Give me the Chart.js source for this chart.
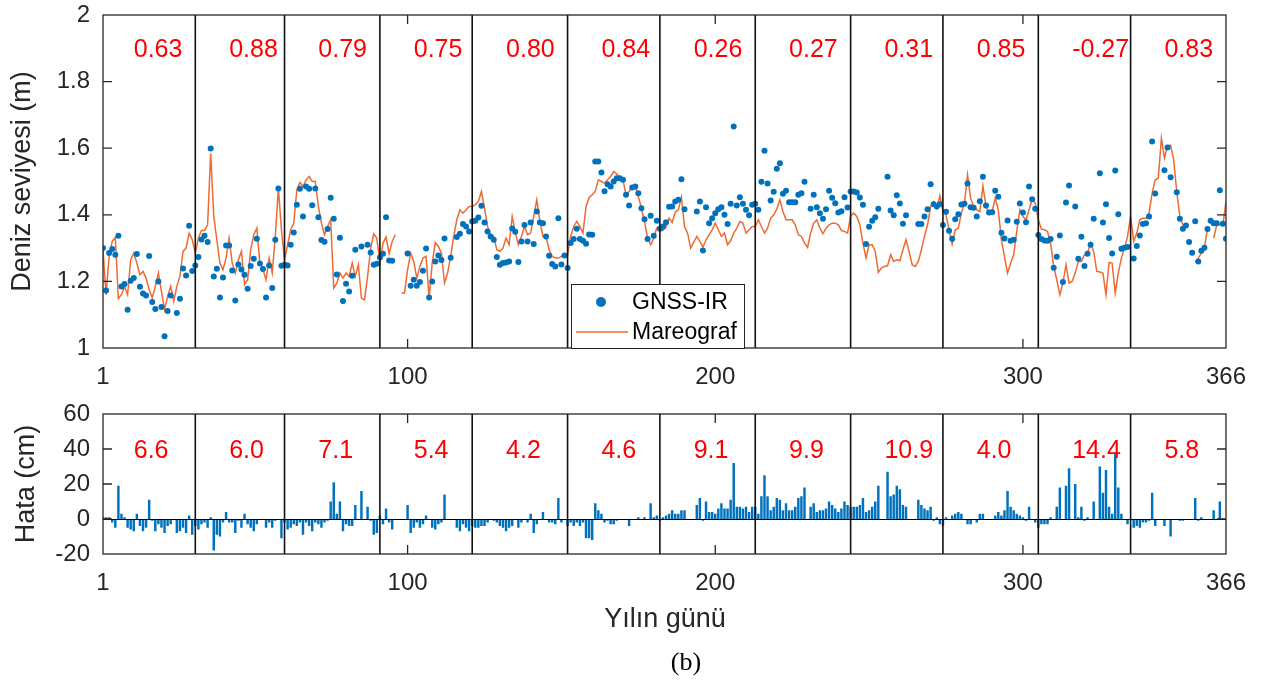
<!DOCTYPE html>
<html><head><meta charset="utf-8">
<script src="https://cdn.jsdelivr.net/npm/chart.js@4"></script>
<style>
html,body{margin:0;padding:0;background:#fff;}
#wrap{position:relative;width:1261px;height:682px;background:#fff;}
canvas{position:absolute;left:0;top:0;}
</style></head><body>
<div id="wrap"><canvas id="c1" width="1261" height="682"></canvas><canvas id="c2" width="1261" height="682"></canvas></div>
<script>
// ---------- DATA ----------
const xTicks = [1, 100, 200, 300, 366];
const xTickLabels = ['1', '100', '200', '300', '366'];
const yTicksTop = [1, 1.2, 1.4, 1.6, 1.8, 2];
const yTickLabelsTop = ['1', '1.2', '1.4', '1.6', '1.8', '2'];
const yTicksBottom = [-20, 0, 20, 40, 60];
const yTickLabelsBottom = ['-20', '0', '20', '40', '60'];
const monthStarts = [1, 32, 61, 92, 122, 153, 183, 214, 245, 275, 306, 336];
const monthLines = [31, 60, 91, 121, 152, 182, 213, 244, 274, 305, 335];
const corrLabels = ['0.63','0.88','0.79','0.75','0.80','0.84','0.26','0.27','0.31','0.85','-0.27','0.83'];
const rmsLabels = ['6.6','6.0','7.1','5.4','4.2','4.6','9.1','9.9','10.9','4.0','14.4','5.8'];

// GNSS-IR daily sea level (m), day 1..366
const gnss = [
1.300,1.173,1.285,1.297,1.280,1.337,1.185,1.192,1.115,1.202,1.210,1.282,1.184,1.164,1.158,1.276,1.138,1.117,1.200,1.123,1.035,1.111,1.158,null,1.105,1.148,1.239,1.218,1.367,1.231,1.248,
1.273,1.326,1.337,1.318,1.599,1.215,1.238,1.152,1.212,1.308,1.308,1.233,1.143,1.251,1.236,1.220,1.178,1.246,1.268,1.328,1.254,1.237,1.152,1.248,1.180,1.325,1.479,1.247,1.250,
1.248,1.310,1.347,1.430,1.478,1.395,1.485,1.478,1.429,1.479,1.393,1.324,1.319,1.357,1.451,1.388,1.221,1.331,1.141,1.193,1.170,1.217,1.295,null,1.305,null,1.310,1.287,1.250,1.253,1.272,
1.283,1.393,1.263,1.262,null,null,null,null,1.284,1.187,1.205,1.187,1.198,1.232,1.299,1.152,1.200,1.260,1.278,1.264,1.329,null,1.271,null,1.333,1.343,1.372,1.365,1.350,1.380,
1.382,1.392,1.427,1.377,1.350,1.335,1.325,1.273,1.250,1.255,1.257,1.260,1.359,1.349,1.258,1.320,1.369,1.320,1.377,1.312,1.410,1.377,1.375,1.335,1.277,1.252,1.245,1.390,1.251,1.278,1.240,
1.315,1.327,1.358,1.327,1.322,1.313,1.341,1.340,1.560,1.560,1.527,1.471,1.492,1.485,1.500,1.510,1.510,1.505,1.460,1.428,1.482,1.485,1.465,1.420,1.387,1.327,1.397,1.337,1.382,1.358,
1.365,1.378,1.424,1.425,1.440,1.445,1.507,1.417,null,null,null,1.410,1.440,1.293,1.423,1.375,1.390,1.405,1.417,1.423,1.400,1.372,1.433,1.665,1.428,1.453,1.433,1.415,1.399,1.430,1.433,
1.415,1.499,1.592,1.494,1.443,1.469,1.538,1.555,1.463,1.472,1.438,1.438,1.438,1.460,1.465,1.499,null,1.418,1.460,1.423,1.405,1.388,1.417,1.472,1.451,1.435,1.407,1.411,1.453,1.422,1.470,
1.470,1.467,1.452,1.430,1.312,1.364,1.382,1.393,1.418,null,null,1.514,1.413,1.399,1.459,1.434,1.373,1.399,null,null,null,1.372,1.372,1.395,1.417,1.492,1.432,1.425,1.432,1.369,
1.409,1.352,1.328,1.387,1.402,1.431,1.433,1.494,1.423,1.421,1.395,1.441,1.514,1.428,1.407,1.408,1.472,1.454,1.346,1.329,1.383,1.322,1.325,1.379,1.434,1.407,1.378,1.485,1.447,1.418,1.339,
1.327,1.323,1.322,1.327,1.241,1.274,1.338,1.198,1.437,1.488,null,1.425,1.268,1.334,1.246,1.283,1.310,1.388,null,1.525,1.377,1.432,1.330,1.284,1.533,1.402,1.298,1.301,1.303,null,
1.269,1.306,1.338,1.372,1.375,1.395,1.620,1.464,null,null,1.534,1.602,1.513,null,1.468,1.388,1.358,1.368,1.318,1.286,1.381,1.260,1.292,1.301,1.357,1.382,1.375,1.375,1.474,1.373,1.328
];

// Tide gauge (Mareograf) daily sea level (m), day 1..366
const tide = [
1.295,1.160,1.275,1.320,1.332,1.148,1.160,1.185,1.160,1.265,1.285,1.255,1.220,1.230,1.210,1.175,1.150,1.185,1.225,1.170,1.115,1.155,1.185,1.140,1.185,1.215,1.290,1.300,1.345,1.325,1.285,
1.330,1.353,1.353,1.370,1.585,1.395,1.325,1.255,1.235,1.270,1.330,1.255,1.225,1.265,1.290,1.190,1.205,1.295,1.340,1.360,1.255,1.235,1.205,1.270,1.225,1.335,1.480,1.355,1.265,
1.310,1.355,1.375,1.475,1.497,1.485,1.505,1.515,1.500,1.500,1.425,1.375,1.340,1.365,1.385,1.180,1.195,1.225,1.210,1.225,1.215,1.255,1.215,1.250,1.150,1.145,1.215,1.300,1.343,1.330,1.255,
1.315,1.333,1.283,1.320,1.340,null,1.165,1.165,1.235,1.285,1.260,1.210,1.245,1.270,1.275,1.150,1.255,1.317,1.305,1.285,1.195,1.225,1.275,1.337,1.385,1.415,1.405,1.415,1.425,1.425,
1.430,1.440,1.470,1.420,1.365,1.337,1.335,1.295,1.290,1.300,1.330,1.310,1.395,1.347,1.310,1.335,1.365,1.340,1.345,1.395,1.445,1.380,1.335,1.335,1.295,1.275,1.270,1.270,1.275,1.278,1.280,
1.335,1.365,1.380,1.365,1.345,1.425,1.452,1.460,1.470,1.505,1.500,1.495,1.505,1.515,1.530,1.523,1.510,1.505,1.460,1.470,1.483,1.487,1.455,1.420,1.380,1.330,1.310,1.330,1.360,1.365,
1.353,1.363,1.390,1.377,1.408,1.415,1.453,1.365,1.345,1.300,1.318,1.335,1.320,1.303,1.325,1.340,1.355,1.375,1.355,1.335,1.345,1.310,1.322,1.345,1.360,1.380,1.375,1.345,1.355,1.365,1.365,
1.385,1.365,1.345,1.360,1.390,1.400,1.417,1.445,1.410,1.385,1.385,1.385,1.370,1.340,1.335,1.315,1.302,1.345,1.375,1.385,1.360,1.343,1.360,1.370,1.375,1.375,1.370,1.353,1.350,1.345,1.397,
1.405,1.395,1.370,1.315,1.270,1.310,1.310,1.290,1.227,1.240,1.245,1.247,1.280,1.260,1.265,1.262,1.295,1.325,1.290,1.250,1.245,1.260,1.295,1.335,1.370,1.425,1.440,1.420,1.457,1.410,
1.400,1.355,1.312,1.355,1.360,1.405,1.435,1.520,1.450,1.425,1.415,1.410,1.487,1.425,1.407,1.410,1.450,1.415,1.325,1.275,1.225,1.255,1.280,1.350,1.415,1.395,1.385,1.415,1.445,1.435,1.385,
1.357,1.355,1.350,1.315,1.245,1.205,1.160,1.195,1.250,1.195,1.200,1.225,1.260,1.260,1.280,1.285,1.315,1.290,1.230,1.228,1.225,1.160,1.257,1.255,1.165,1.225,1.270,1.300,1.335,1.395,
1.320,1.345,1.385,1.390,1.390,1.405,1.465,1.505,1.510,1.630,1.570,1.607,1.609,1.565,1.470,1.395,1.370,1.370,null,null,1.258,1.270,1.285,1.300,1.360,null,1.330,1.370,1.370,1.370,1.440
];

// Error (cm), day 1..366
const errorCm = [
1,1,1,-2,-5,19,3,1,-5,-6,-7,3,-4,-7,-5,11,-1,-7,-3,-5,-8,-4,-3,null,-8,-7,-5,-8,2,-9,-4,
-6,-3,-2,-5,1,-18,-9,-10,-2,4,-2,-2,-8,-1,-5,3,-3,-5,-7,-3,0,0,-5,-2,-5,-1,0,-11,-2,
-6,-5,-3,-4,-2,-9,-2,-4,-7,-2,-3,-5,-2,-1,10,21,3,10,-7,-3,-4,-4,8,null,16,null,7,-1,-9,-8,2,
-3,6,-2,-6,null,null,null,null,8,-8,-5,-2,-5,-3,2,0,-5,-6,-3,-2,14,null,0,null,-5,-7,-3,-5,-7,-4,
-5,-5,-4,-4,-2,0,-1,-2,-4,-5,-7,-5,-4,0,-5,-2,0,-2,3,-8,-3,0,4,0,-2,-2,-3,12,-2,0,-4,
-2,-4,-2,-4,-2,-11,-11,-12,9,5,3,-2,-1,-3,-3,-1,0,0,0,-4,0,0,1,0,1,0,9,1,2,-1,
1,2,3,5,3,3,5,5,null,null,null,8,12,-1,10,4,4,3,6,9,6,6,11,32,7,7,6,7,4,7,7,
3,13,25,13,5,7,12,11,5,9,5,5,7,12,13,18,null,7,9,4,5,5,6,10,8,6,4,6,10,8,7,
7,7,8,12,4,5,7,10,19,null,null,27,13,14,19,17,8,7,null,null,null,11,8,6,5,7,-1,1,-3,-4,
1,0,2,3,4,3,0,-3,-3,0,-2,3,3,0,0,0,2,4,2,5,16,7,5,3,2,1,-1,7,0,-2,-5,
-3,-3,-3,1,0,7,18,0,19,29,null,20,1,7,-1,1,0,10,null,30,15,28,7,3,37,18,3,0,-3,null,
-5,-4,-5,-2,-2,-1,15,-4,null,null,-4,0,-10,null,0,-1,-1,0,null,null,12,-1,1,0,0,null,5,0,10,0,null
];

// ---------- STYLE ----------
const FONT = '"Liberation Sans", Arial, Helvetica, sans-serif';
const AXIS_COLOR = '#262626';
const BLUE = '#0072BD';
const ORANGE = '#EE6A32';

const toPts = arr => arr.map((v, i) => ({x: i + 1, y: v}));

const decor = {
  id: 'decor',
  afterDatasetsDraw(chart, args, o) {
    const {ctx, chartArea: a, scales: {x, y}} = chart;
    ctx.save();
    if (o.zeroLine) {
      const py = Math.round(y.getPixelForValue(0)) + 0.5;
      ctx.strokeStyle = '#000'; ctx.lineWidth = 1;
      ctx.beginPath(); ctx.moveTo(a.left, py); ctx.lineTo(a.right, py); ctx.stroke();
    }
    ctx.strokeStyle = '#111'; ctx.lineWidth = 1.6;
    monthLines.forEach(d => {
      const px = x.getPixelForValue(d);
      ctx.beginPath(); ctx.moveTo(px, a.top); ctx.lineTo(px, a.bottom); ctx.stroke();
    });
    ctx.strokeStyle = AXIS_COLOR; ctx.lineWidth = 1.3;
    ctx.strokeRect(a.left, a.top, a.right - a.left, a.bottom - a.top);
    const tl = 9;
    ctx.beginPath();
    xTicks.forEach(v => {
      if (v <= x.min || v >= x.max) return;
      const px = x.getPixelForValue(v);
      ctx.moveTo(px, a.bottom); ctx.lineTo(px, a.bottom - tl);
      ctx.moveTo(px, a.top); ctx.lineTo(px, a.top + tl);
    });
    o.yTicks.forEach(v => {
      if (v <= y.min || v >= y.max) return;
      const py = y.getPixelForValue(v);
      ctx.moveTo(a.left, py); ctx.lineTo(a.left + tl, py);
      ctx.moveTo(a.right, py); ctx.lineTo(a.right - tl, py);
    });
    ctx.stroke();
    // month annotations
    ctx.fillStyle = '#FF0000';
    ctx.font = '25px ' + FONT;
    ctx.textAlign = 'left'; ctx.textBaseline = 'middle';
    o.labels.forEach((t, i) => {
      ctx.fillText(t, x.getPixelForValue(monthStarts[i] + 10), y.getPixelForValue(o.labelY));
    });
    // y title
    ctx.fillStyle = AXIS_COLOR;
    ctx.font = '27px ' + FONT;
    ctx.textAlign = 'center'; ctx.textBaseline = 'middle';
    ctx.save();
    ctx.translate(o.yTitleX, (a.top + a.bottom) / 2);
    ctx.rotate(-Math.PI / 2);
    ctx.fillText(o.yTitle, 0, 0);
    ctx.restore();
    if (o.legend) {
      const L = {l: 571, t: 284, r: 744, b: a.bottom};
      ctx.fillStyle = '#fff';
      ctx.fillRect(L.l, L.t, L.r - L.l, L.b - L.t);
      ctx.strokeStyle = AXIS_COLOR; ctx.lineWidth = 1;
      ctx.strokeRect(L.l + 0.5, L.t + 0.5, L.r - L.l, L.b - L.t);
      ctx.fillStyle = BLUE;
      ctx.beginPath(); ctx.arc(601, 302, 5, 0, Math.PI * 2); ctx.fill();
      ctx.strokeStyle = ORANGE; ctx.lineWidth = 1.5;
      ctx.beginPath(); ctx.moveTo(576, 332); ctx.lineTo(628, 332); ctx.stroke();
      ctx.fillStyle = '#000';
      ctx.font = '23px ' + FONT;
      ctx.textAlign = 'left'; ctx.textBaseline = 'middle';
      ctx.fillText('GNSS-IR', 632, 303);
      ctx.fillText('Mareograf', 632, 333);
    }
    if (o.xTitle) {
      ctx.fillStyle = AXIS_COLOR;
      ctx.font = '27px ' + FONT;
      ctx.textAlign = 'center'; ctx.textBaseline = 'middle';
      ctx.fillText(o.xTitle, 665, 620);
      ctx.fillStyle = '#000';
      ctx.font = '26px "Liberation Serif", "DejaVu Serif", serif';
      ctx.fillText('(b)', 686, 663);
    }
    ctx.restore();
  }
};

function xScale() {
  return {
    type: 'linear', min: 1, max: 366, offset: false,
    grid: {display: false, drawTicks: false}, border: {display: false},
    afterBuildTicks: s => { s.ticks = xTicks.map(v => ({value: v})); },
    afterFit: s => { s.height = 40; },
    ticks: {
      color: AXIS_COLOR, font: {family: FONT, size: 24}, padding: 15, maxRotation: 0, autoSkip: false,
      callback: v => xTickLabels[xTicks.indexOf(v)]
    }
  };
}
function yScale(min, max, vals, labs) {
  return {
    type: 'linear', min, max,
    grid: {display: false, drawTicks: false}, border: {display: false},
    afterBuildTicks: s => { s.ticks = vals.map(v => ({value: v})); },
    afterFit: s => { s.width = 103; s.paddingTop = 0; s.paddingBottom = 0; },
    ticks: {
      color: AXIS_COLOR, font: {family: FONT, size: 24}, padding: 13,
      callback: v => { const i = vals.findIndex(t => Math.abs(t - v) < 1e-9); return i >= 0 ? labs[i] : ''; }
    }
  };
}

Chart.defaults.font.family = FONT;

new Chart(document.getElementById('c1'), {
  data: {
    datasets: [
      {type: 'line', label: 'Mareograf', data: toPts(tide), borderColor: ORANGE, borderWidth: 1.5,
       pointRadius: 0, tension: 0, spanGaps: false, fill: false, order: 2},
      {type: 'scatter', label: 'GNSS-IR', data: toPts(gnss), backgroundColor: BLUE, borderWidth: 0,
       pointRadius: 3, pointHoverRadius: 3, order: 1}
    ]
  },
  options: {
    responsive: false, animation: false, events: [],
    layout: {padding: {left: 0, right: 31, top: 15, bottom: 682 - 348 - 40}},
    scales: {x: xScale(), y: yScale(1, 2, yTicksTop, yTickLabelsTop)},
    plugins: {
      legend: {display: false}, tooltip: {enabled: false},
      decor: {yTicks: yTicksTop, labels: corrLabels, labelY: 1.895, yTitle: 'Deniz seviyesi (m)', yTitleX: 23, legend: true}
    }
  },
  plugins: [decor]
});

new Chart(document.getElementById('c2'), {
  type: 'bar',
  data: {
    datasets: [
      {label: 'Hata', data: toPts(errorCm), backgroundColor: BLUE, borderWidth: 0,
       barPercentage: 0.8, categoryPercentage: 1, grouped: false}
    ]
  },
  options: {
    responsive: false, animation: false, events: [],
    layout: {padding: {left: 0, right: 31, top: 414, bottom: 682 - 554 - 40}},
    scales: {x: xScale(), y: yScale(-20, 60, yTicksBottom, yTickLabelsBottom)},
    plugins: {
      legend: {display: false}, tooltip: {enabled: false},
      decor: {yTicks: yTicksBottom, labels: rmsLabels, labelY: 39, yTitle: 'Hata (cm)', yTitleX: 27, zeroLine: true, xTitle: 'Yılın günü'}
    }
  },
  plugins: [decor]
});
</script>
</body></html>
